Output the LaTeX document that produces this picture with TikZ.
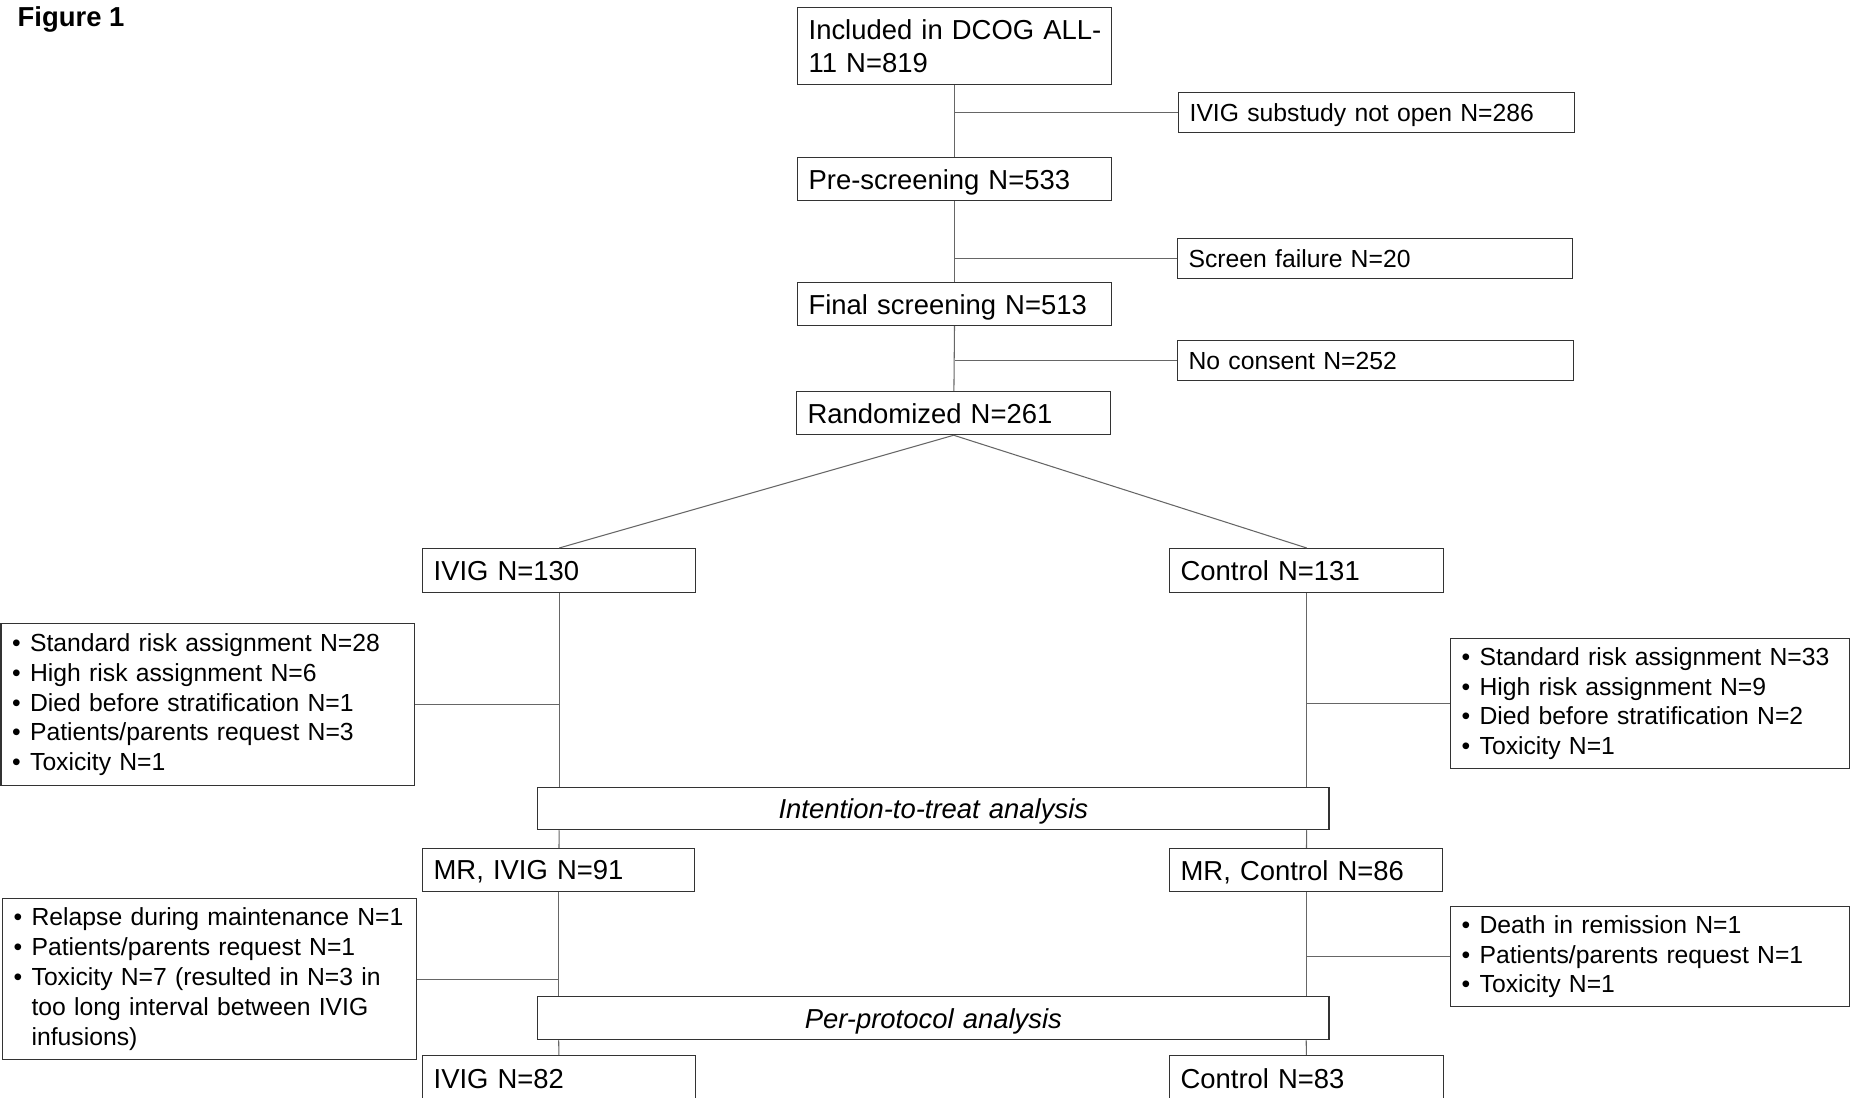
\documentclass[tikz,border=0pt]{standalone}
\usepackage{fontspec}
\setmainfont{Liberation Sans}
\newcommand{\itm}[1]{\makebox[5.12pt][l]{\textbullet}\mbox{#1}}

\begin{document}
\begin{tikzpicture}[x=0.01cm, y=-0.01cm,
  box/.style={rectangle, draw=black!80, line width=0.35pt, anchor=north west, inner xsep=0.11cm, inner ysep=0pt, align=left},
  title/.style={box, text depth=0pt, font=\fontsize{7.8pt}{9.5pt}\selectfont},
  excl/.style={box, text depth=0pt, font=\fontsize{7.03pt}{8.48pt}\selectfont},
  list/.style={box, font=\fontsize{7.03pt}{8.48pt}\selectfont},
  every edge/.style={draw=black!60, line width=0.3pt}]
          \useasboundingbox (0,0) rectangle (1851,1098);
          \clip (0,0) rectangle (1851,1098);
          \node[anchor=base west, inner sep=0pt, font=\bfseries\fontsize{7.8pt}{9.5pt}\selectfont](fig) at (17,27) {Figure 1};
          \node[box, font=\fontsize{7.8pt}{9.5pt}\selectfont, text width=2.92cm, minimum height=0.77cm](0) at (797,7) {\mbox{Included in DCOG ALL-}\\11 N=819};
          \node[excl,  text width=3.74cm, minimum height=0.40cm](1)  at (1178,92)  {IVIG substudy not open N=286};
          \node[title, text width=2.92cm, minimum height=0.43cm](2)  at (797,157)  {Pre-screening N=533};
          \node[excl,  text width=3.73cm, minimum height=0.40cm](3)  at (1177,238) {Screen failure N=20};
          \node[title, text width=2.92cm, minimum height=0.43cm](4)  at (797,282)  {\mbox{Final screening N=513}};
          \node[excl,  text width=3.74cm, minimum height=0.40cm](5)  at (1177,340) {No consent N=252};
          \node[title, text width=2.92cm, minimum height=0.43cm](6)  at (796,391)  {Randomized N=261};
          \node[title, text width=2.51cm, minimum height=0.44cm](7)  at (422,548)  {IVIG N=130};
          \node[title, text width=2.52cm, minimum height=0.44cm](8)  at (1169,548) {Control N=131};
          \node[list,  text width=3.91cm, minimum height=1.62cm](9)  at (0.5,623)  {\itm{Standard risk assignment N=28}\\\itm{High risk assignment N=6}\\\itm{Died before stratification N=1}\\\itm{Patients/parents request N=3}\\\itm{Toxicity N=1}};
          \node[list,  text width=3.77cm, minimum height=1.30cm](10) at (1450,638) {\itm{Standard risk assignment N=33}\\\itm{High risk assignment N=9}\\\itm{Died before stratification N=2}\\\itm{Toxicity N=1}};
          \node[title, text width=7.69cm, minimum height=0.42cm, align=center](11) at (537,787) {\itshape Intention-to-treat analysis};
          \node[title, text width=2.50cm, minimum height=0.43cm](12) at (422,848)  {MR, IVIG N=91};
          \node[title, text width=2.51cm, minimum height=0.43cm](13) at (1169,848) {\mbox{MR, Control N=86}};
          \node[list,  text width=3.92cm, minimum height=1.61cm](14) at (2,898)    {\itm{Relapse during maintenance N=1}\\\itm{Patients/parents request N=1}\\\itm{Toxicity N=7 (resulted in N=3 in}\\\hspace*{5.12pt}\mbox{too long interval between IVIG}\\\hspace*{5.12pt}\mbox{infusions)}};
          \node[list,  text width=3.77cm, minimum height=1.00cm](15) at (1450,906) {\itm{Death in remission N=1}\\\itm{Patients/parents request N=1}\\\itm{Toxicity N=1}};
          \node[title, text width=7.69cm, minimum height=0.43cm, align=center](16) at (537,996) {\itshape Per-protocol analysis};
          \node[title, text width=2.51cm, minimum height=0.46cm](17) at (422,1055) {IVIG N=82};
          \node[title, text width=2.52cm, minimum height=0.46cm](18) at (1169,1055) {Control N=83};
          \path
            (0) edge (2)
            (2) edge (4)
            (4) edge (6)
            (1) edge (1 -| 0)
            (3) edge (3 -| 0)
            (5) edge (5 -| 0)
            (6.south) edge (7.north)
            (6.south) edge (8.north)
            (7) edge (7 |- 11.north)
            (8) edge (8 |- 11.north)
            (9) edge (9 -| 7)
            (10) edge (10 -| 8)
            (7 |- 11.south) edge (12)
            (8 |- 11.south) edge (13)
            (12) edge (12 |- 16.north)
            (13) edge (13 |- 16.north)
            (14) edge (14 -| 12)
            (15) edge (15 -| 13)
            (12 |- 16.south) edge (17)
            (13 |- 16.south) edge (18)
            ;
        \end{tikzpicture}
\end{document}
